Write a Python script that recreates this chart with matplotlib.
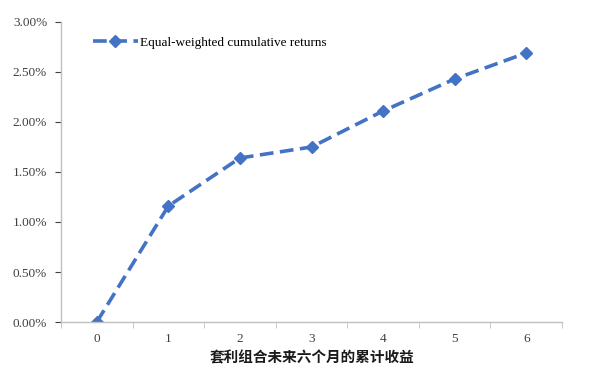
import matplotlib
matplotlib.use('Agg')
import matplotlib.pyplot as plt
from matplotlib.ticker import FixedLocator, FuncFormatter

plt.rcParams['font.family'] = ['Liberation Serif', 'Noto Sans CJK SC']

# 数据
months = [0, 1, 2, 3, 4, 5, 6]
returns = [0.0, 1.16, 1.64, 1.75, 2.11, 2.43, 2.69]  # %
y_ticks = [0.0, 0.5, 1.0, 1.5, 2.0, 2.5, 3.0]
series_label = 'Equal-weighted cumulative returns'
x_title = '套利组合未来六个月的累计收益'

fig = plt.figure(figsize=(6, 3.72), dpi=100)
ax = fig.add_axes([0.1017, 0.1344, 0.835, 0.8065])

ax.plot(months, returns, color='#4472C4', linestyle=(0, (3.8, 1.8)), linewidth=2.6,
        marker='D', markersize=6, label=series_label)

ax.set_xlim(-0.5, 6.5)
ax.set_ylim(0, 3.0)
ax.set_yticks(y_ticks)
ax.yaxis.set_major_formatter(FuncFormatter(lambda v, p: f'{v:.2f}%'))

# x轴: 标签在类别中心, 刻度在边界
ax.set_xticks(months)
ax.set_xticklabels([str(m) for m in months])
ax.tick_params(axis='x', which='major', length=0, pad=8)
ax.xaxis.set_minor_locator(FixedLocator([m - 0.5 for m in months] + [6.5]))
ax.tick_params(axis='x', which='minor', length=4, color='#BFBFBF', direction='out')
ax.tick_params(axis='y', length=4, color='#BFBFBF', pad=6)
ax.tick_params(labelsize=9.5, colors='#404040')

for side in ['top', 'right']:
    ax.spines[side].set_visible(False)
for side in ['left', 'bottom']:
    ax.spines[side].set_color('#BFBFBF')
    ax.spines[side].set_linewidth(1.0)

fig.text(0.52, 0.04, x_title, fontsize=10.5, fontweight='bold', family='Noto Sans CJK SC',
         ha='center', va='center', color='#1a1a1a')

leg = ax.legend(loc='upper left', bbox_to_anchor=(0.04, 0.99), frameon=False,
                fontsize=9.5, handlelength=3.4, handletextpad=0.2)

fig.savefig('out.png', dpi=100)
